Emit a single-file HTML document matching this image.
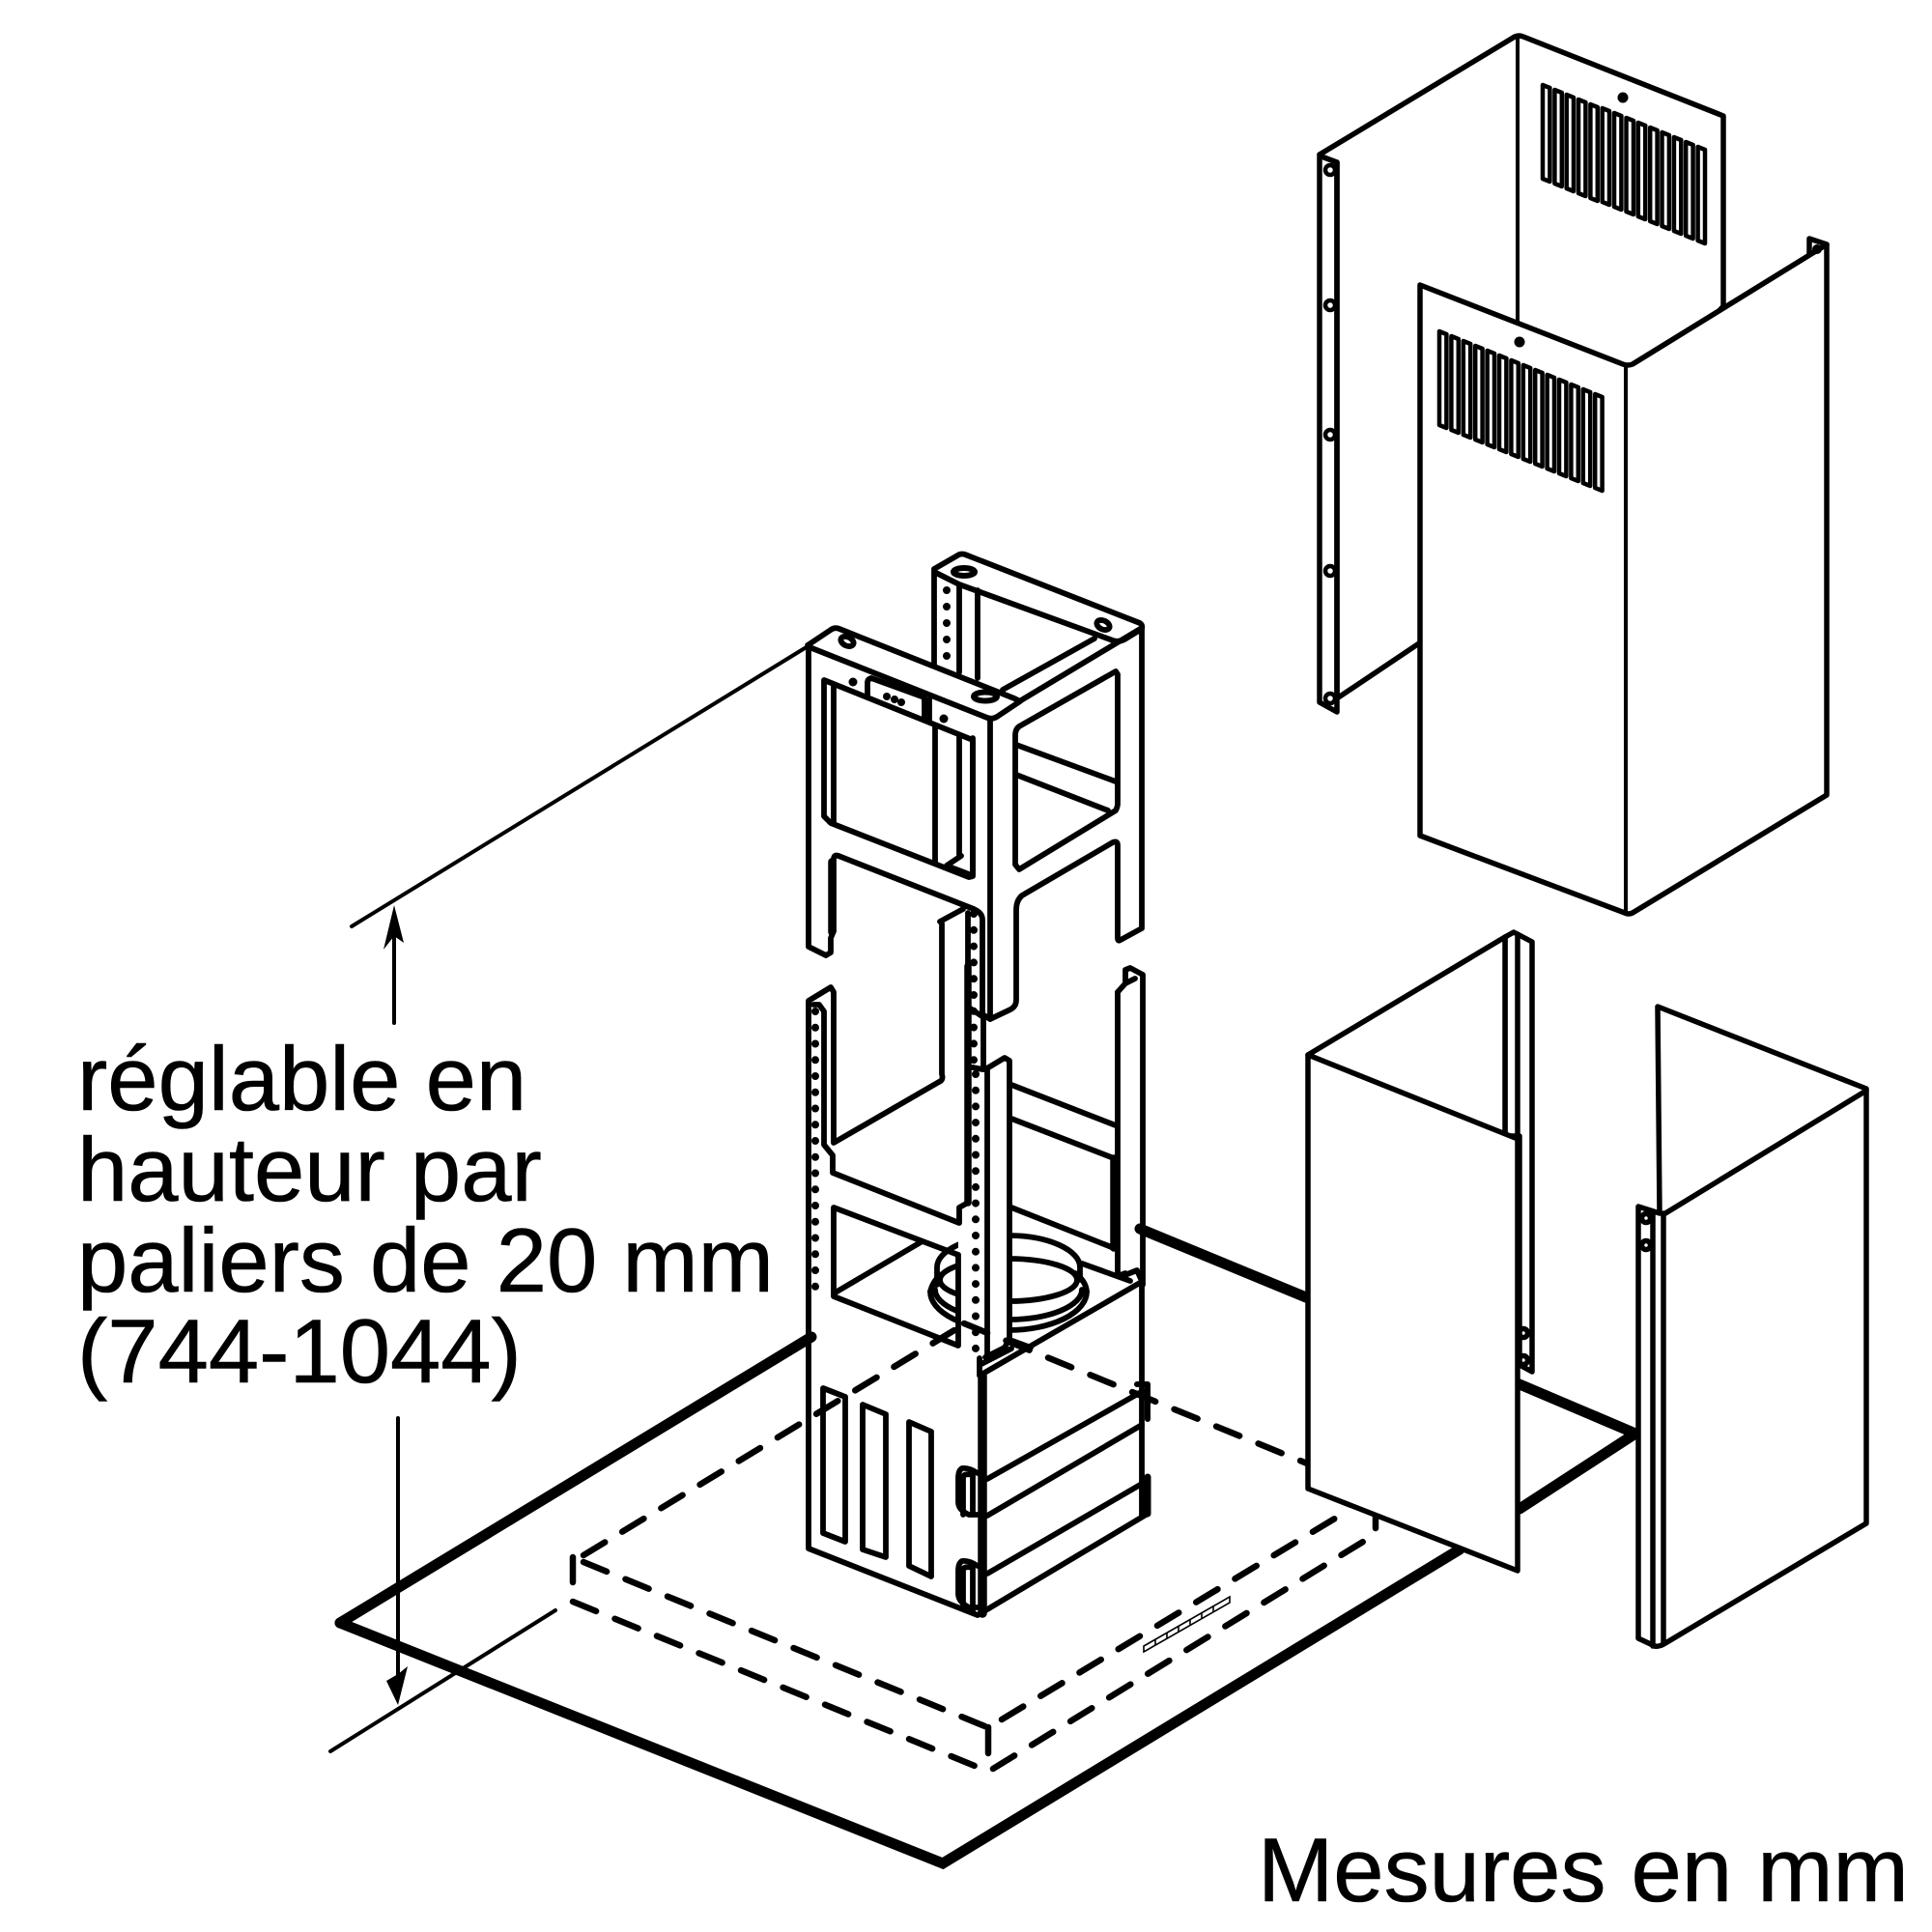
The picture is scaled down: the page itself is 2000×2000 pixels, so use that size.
<!DOCTYPE html>
<html><head><meta charset="utf-8"><title>Diagram</title>
<style>html,body{margin:0;padding:0;background:#fff}svg{display:block}</style></head>
<body>
<svg xmlns="http://www.w3.org/2000/svg" width="2000" height="2000" viewBox="0 0 2000 2000">
<defs>
<clipPath id="rc"><path d="M900 1250H992V1420H900Z M1045 1250H1140V1420H1045Z"/></clipPath>
</defs>
<rect width="2000" height="2000" fill="#fff"/>

<!-- worktop thick outline -->
<g fill="none" stroke="#000" stroke-width="11" stroke-linecap="round">
<path d="M352 1680L976 1929L1511 1604" stroke-linejoin="miter"/>
<path d="M840 1384L352 1680" stroke-linejoin="round"/>
<path d="M1180 1272L1352 1343"/>
<path d="M1573 1433L1693 1484L1573 1562" stroke-linejoin="miter"/>
</g>

<!-- dimension lines -->
<g fill="none" stroke="#000" stroke-width="4" stroke-linecap="round">
<path d="M833 671L364 959"/>
<path d="M408 960V1059"/>
<path d="M412 1468V1740"/>
<path d="M575 1667L342 1813"/>
</g>
<path d="M408 937L418 976L408 969L397 983Z" fill="#000"/>
<path d="M412 1765L400 1740L412 1733L422 1725Z" fill="#000"/>

<g fill="none" stroke="#000" stroke-width="5.8" stroke-linejoin="round" stroke-linecap="round">
<!-- rear upper frame -->
<path d="M967 692V589L993 574Q996 573 999 574L1180 645Q1183 647 1182 651L1164 662Q1158 665 1152 663L993 605L967 592"/>
<path d="M993 605V696M1012 611V702M1133 661L1038 714M1182 650L1057 725"/>
<path d="M968 752V893M993 762V886M1007 764V906M980 896L995 886M982 897L1003 905"/>
<path d="M1052 771L1155 809M1052 802L1147 839"/>
<path d="M980 611V695" stroke-width="8" stroke-dasharray="0 17"/>
<ellipse cx="998" cy="592" rx="11" ry="4" stroke-width="6"/>
<ellipse cx="1142" cy="647" rx="7" ry="4.5" transform="rotate(25 1142 647)"/>

<!-- front upper frame -->
<path d="M836 668L860 652Q864 649 869 651L1050 723L1056 726L1032 742Q1027 745 1022 743L838 670Z" fill="#fff"/>
<ellipse cx="877" cy="664" rx="7" ry="4.5" transform="rotate(25 877 664)"/>
<ellipse cx="1020" cy="721" rx="12" ry="4.5" stroke-width="6"/>
<path d="M837 668V980L855 989L860 986V971L863 964V890Q863 884 868 886L1008 941Q1017 945 1017 952V1050L1025 1055L1046 1045Q1052 1042 1052 1035V942Q1052 932 1058 927L1152 872Q1157 870 1157 875V971Q1157 975 1160 973L1182 961V650"/>
<path d="M861 892V965" stroke-width="7.5"/>
<path d="M1025 745V1055"/>
<path d="M853 704L1007 766V907L1003 908L860 852L853 845Z"/>
<path d="M863 711V852"/>
<path d="M1155 695L1055 752Q1051 755 1051 761V895L1055 900L1155 839Q1157 835 1157 832V698Z"/>
<path d="M898 722V707Q898 703 902 702L957 722V743"/>
<path d="M962 724V745"/>
<circle cx="883" cy="706" r="4.5" fill="#000" stroke="none"/>
<circle cx="977" cy="744" r="4.5" fill="#000" stroke="none"/>
<circle cx="918" cy="721" r="4" fill="#000" stroke="none"/>
<circle cx="926" cy="724" r="4" fill="#000" stroke="none"/>
<circle cx="933" cy="727" r="4" fill="#000" stroke="none"/>

<!-- lower frame -->
<path d="M973 954L997 941M975 956V1112Q977 1118 972 1120L863 1183V1027L860 1022L837 1036V1603L1012 1672L1188 1567V1529"/>
<path d="M842 1040H848L853 1047V1185L862 1196V1214L993 1266V1250L1002 1245V945"/>
<path d="M1002 1000V1245" stroke-width="7.5"/>
<path d="M1003 1043L1018 1053V1107"/>
<path d="M1007 1105L1017 1107L1022 1107V1406"/>
<path d="M1020 1107L1040 1095L1045 1098V1385L1040 1395L1020 1405"/>
<path d="M844 1047V1332" stroke-width="8" stroke-dasharray="0 16.75"/>
<path d="M1008 946V1098" stroke-width="8" stroke-dasharray="0 16.8"/>
<path d="M1010 1112V1396" stroke-width="8" stroke-dasharray="0 16.7"/>

<!-- duct rings -->
<g clip-path="url(#rc)">
<path d="M970 1330V1312A74 33 0 0 1 1118 1312V1325"/>
<ellipse cx="1044" cy="1325" rx="71" ry="22"/>
<path d="M968 1335A76 31 0 0 0 1120 1335"/>
<path d="M963 1337A81 40 0 0 0 1125 1337"/>
<path d="M963 1337Q966 1325 975 1319M1125 1337Q1124 1326 1113 1318"/>
</g>

<!-- lower frame window, cross pieces -->
<path d="M863 1250L992 1299V1393L863 1342Z"/>
<path d="M863 1339L953 1286"/>
<path d="M1047 1123L1155 1165M1047 1158L1153 1199M1047 1250L1153 1292"/>
<path d="M1153 1199V1292" stroke-width="7.5"/>
<path d="M1157 1027V1321L1165 1318"/>
<path d="M1157 1027L1165 1018V1004L1170 1002L1183 1009V1330"/>
<path d="M1165 1018L1175 1013"/>
<path d="M1120 1308L1170 1326M1162 1321L1177 1315L1182 1326"/>
<path d="M1048 1388L1067 1395"/>

<!-- box -->
<path d="M1014 1406V1424L1180 1328H1182V1570"/>
<path d="M1014 1413L1047 1396"/>
<path d="M1017 1424V1670" stroke-width="9.5"/>
<path d="M1022 1531L1183 1440M1022 1569L1182 1475M1022 1629L1182 1536"/>
<path d="M1188 1433V1469M1177 1433H1188" stroke-width="6"/>
<path d="M1188 1529V1567" stroke-width="7"/>
<path d="M852 1437L875 1446V1596L852 1587Z"/>
<path d="M893 1454L917 1464V1612L893 1604Z"/>
<path d="M941 1472L964 1482V1632L941 1621Z"/>
<!-- clips -->
<path d="M1012 1525Q1003 1519 996 1520Q992 1522 992 1530V1555Q992 1563 1003 1568H1012"/>
<path d="M997 1568V1528Q1000 1525 1007 1527V1568"/>
<path d="M1012 1621Q1003 1615 996 1616Q992 1618 992 1626V1650Q992 1658 1003 1664H1012"/>
<path d="M997 1662V1624Q1000 1621 1007 1623V1668"/>
</g>

<!-- dashed outlines -->
<g fill="none" stroke="#000" stroke-width="6.5" stroke-linecap="round">
<path d="M604 1610L988 1377" stroke-dasharray="26 21"/>
<path d="M998 1370L1358 1517" stroke-dasharray="26 21"/>
<path d="M604 1617L1022 1788" stroke-dasharray="26 21"/>
<path d="M593 1658L1009 1828" stroke-dasharray="26 21"/>
<path d="M1037 1780L1395 1564" stroke-dasharray="26 21"/>
<path d="M1028 1831L1411 1596" stroke-dasharray="26 21"/>
<path d="M593 1612V1638M1023 1788V1815M1424 1569V1582"/>
</g>
<g fill="none" stroke="#000" stroke-width="1.6">
<path d="M1184 1704L1273 1653V1659L1184 1710Z"/>
<path d="M1196 1697V1703M1208 1690V1696M1220 1683V1689M1232 1676V1682M1244 1669V1675M1256 1662V1668"/>
</g>

<!-- top back panel -->
<g fill="#fff" stroke="#000" stroke-width="5.5" stroke-linejoin="round" stroke-linecap="round">
<path d="M1366 160L1568 38Q1572 36 1577 38L1784 120V317L1469 666L1384 723V168L1368 162Z"/>
<path d="M1366 160V727L1384 737V168" fill="none"/>
<path d="M1571 40V333" fill="none" stroke-width="4"/>
<circle cx="1680" cy="101" r="5.5" fill="#000" stroke="none"/>
<g fill="none" stroke-width="4.5">
<path d="M1597 88L1604.4 91V188L1597 185Z"/><path d="M1609.4 93L1616.8 96V193L1609.4 190Z"/><path d="M1621.7 98L1629 101V198L1621.7 195Z"/><path d="M1634 103L1641.4 106V203L1634 200Z"/><path d="M1646.4 108L1653.8 111V208L1646.4 205Z"/><path d="M1658.7 112L1666 115V212L1658.7 209Z"/><path d="M1671 117L1678.4 120V217L1671 214Z"/><path d="M1683.5 122L1691 125V222L1683.5 219Z"/><path d="M1695.8 127L1703.2 130V227L1695.8 224Z"/><path d="M1708.2 132L1715.6 135V232L1708.2 229Z"/><path d="M1720.5 137L1727.9 140V237L1720.5 234Z"/><path d="M1732.9 142L1740.3 145V242L1732.9 239Z"/><path d="M1745.2 147L1752.6 150V247L1745.2 244Z"/><path d="M1757.6 152L1765 155V252L1757.6 249Z"/>
</g>
<g fill="none" stroke-width="4.5">
<circle cx="1377" cy="176" r="5"/><circle cx="1377" cy="316" r="5"/><circle cx="1377" cy="450" r="5"/><circle cx="1377" cy="591" r="5"/><circle cx="1377" cy="723" r="5"/>
</g>
</g>

<!-- top front panel -->
<g fill="#fff" stroke="#000" stroke-width="5.5" stroke-linejoin="round" stroke-linecap="round">
<path d="M1470 295L1680 377Q1685 379 1690 377L1891 253V823L1690 945Q1686 947 1682 945L1470 865Z"/>
<path d="M1683 379V946" fill="none" stroke-width="4"/>
<path d="M1873 263V247L1891 253" fill="none"/>
<circle cx="1881" cy="258" r="5" fill="#000" stroke="none"/>
<circle cx="1573" cy="354" r="5.5" fill="#000" stroke="none"/>
<g fill="none" stroke-width="4.5">
<path d="M1490 343L1497.4 346V443L1490 440Z"/><path d="M1502.4 348L1509.8 351V448L1502.4 445Z"/><path d="M1514.8 353L1522.2 356V453L1514.8 450Z"/><path d="M1527.2 358L1534.6 361V458L1527.2 455Z"/><path d="M1539.6 363L1547 366V463L1539.6 460Z"/><path d="M1552 368L1559.4 371V468L1552 465Z"/><path d="M1564.4 373L1571.8 376V473L1564.4 470Z"/><path d="M1576.8 378L1584.2 381V478L1576.8 475Z"/><path d="M1589.2 383L1596.6 386V483L1589.2 480Z"/><path d="M1601.6 388L1609 391V488L1601.6 485Z"/><path d="M1614 393L1621.4 396V493L1614 490Z"/><path d="M1626.4 398L1633.8 401V498L1626.4 495Z"/><path d="M1638.8 403L1646.2 406V503L1638.8 500Z"/><path d="M1651.2 408L1658.6 411V508L1651.2 505Z"/>
</g>
</g>

<!-- lower left panel -->
<g fill="#fff" stroke="#000" stroke-width="5.5" stroke-linejoin="round" stroke-linecap="round">
<path d="M1558 1176V970L1567 965L1586 975V1420L1573 1413V1176Z"/>
<path d="M1571 967V1180" fill="none"/>
<circle cx="1577" cy="1380" r="4.5" fill="none"/>
<circle cx="1577" cy="1408" r="4.5" fill="none"/>
<path d="M1354 1092L1558 970V1176L1354 1092Z" fill="#fff"/>
<path d="M1354 1092L1571 1179V1626L1354 1541Z"/>
</g>

<!-- lower right panel -->
<g fill="#fff" stroke="#000" stroke-width="5.5" stroke-linejoin="round" stroke-linecap="round">
<path d="M1716 1042L1932 1127V1577L1724 1701Q1718 1705 1713 1704L1696 1696V1249L1718 1256Z"/>
<path d="M1711 1254V1704M1722 1256V1701" fill="none"/>
<path d="M1724 1256L1932 1129" fill="none"/>
<circle cx="1704" cy="1261" r="4.5" fill="none"/>
<circle cx="1704" cy="1289" r="4.5" fill="none"/>
</g>

<!-- labels -->
<g font-family="'Liberation Sans', sans-serif" font-size="94" fill="#000" stroke="#000" stroke-width="0.6">
<text x="80" y="1149">réglable en</text>
<text x="80" y="1243">hauteur par</text>
<text x="80" y="1337">paliers de 20 mm</text>
<text x="80" y="1431">(744-1044)</text>
<text x="1302" y="1968">Mesures en mm</text>
</g>
</svg>
</body></html>
